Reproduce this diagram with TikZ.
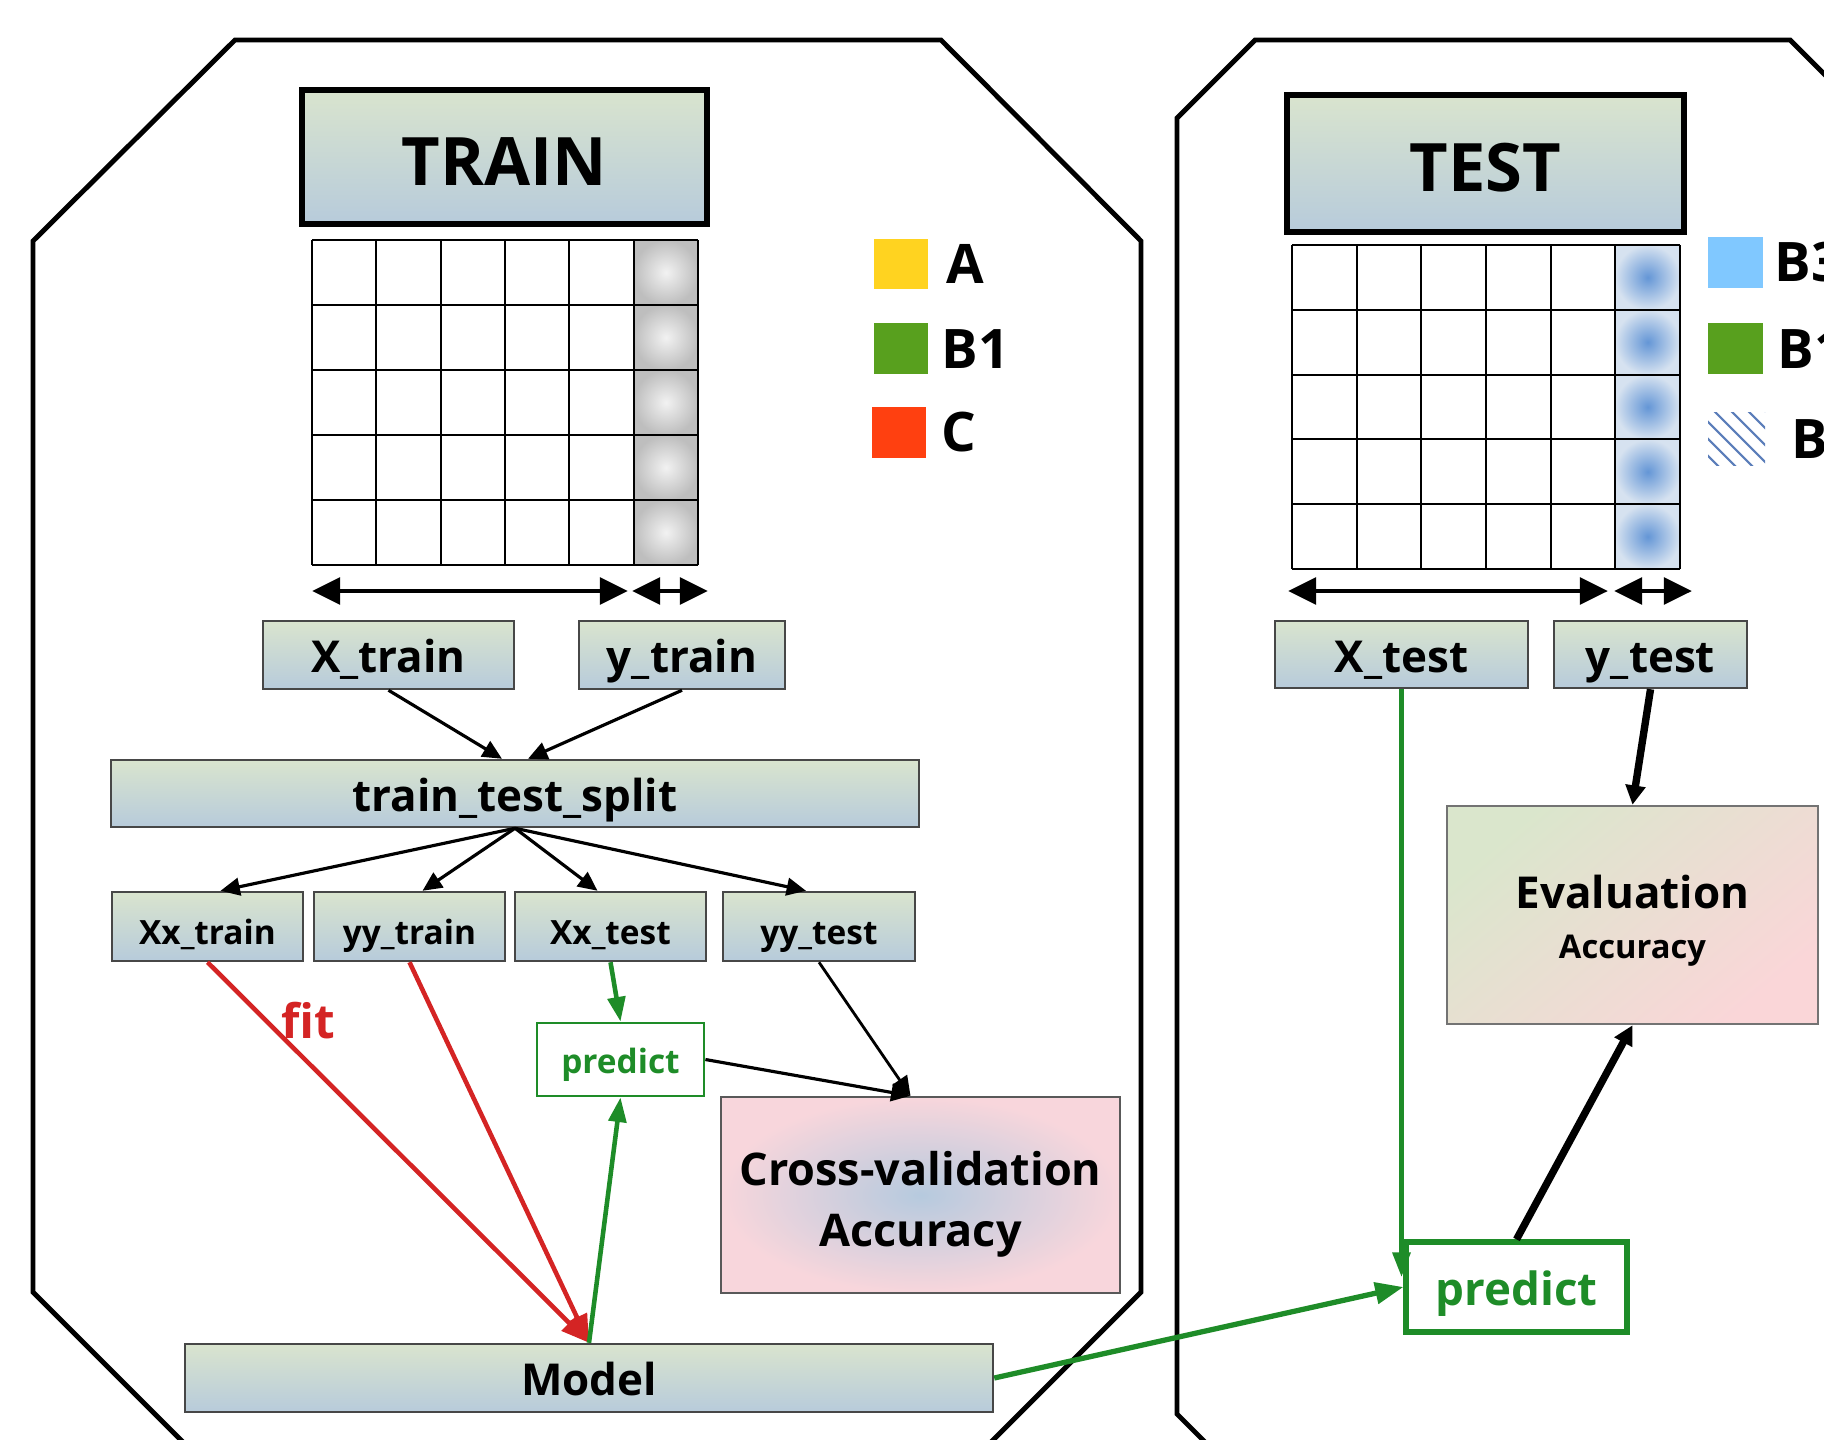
\documentclass[tikz,border=0pt]{standalone}
\usepackage{fontspec}
\setmainfont{Open Sans}
\usetikzlibrary{arrows.meta,calc}
\definecolor{boxtop}{RGB}{217,228,206}
\definecolor{boxbot}{RGB}{183,203,219}
\definecolor{grn}{RGB}{30,140,40}
\definecolor{redl}{RGB}{212,36,36}
\definecolor{legA}{RGB}{255,211,32}
\definecolor{legB}{RGB}{88,160,30}
\definecolor{legC}{RGB}{255,64,16}
\definecolor{legBthree}{RGB}{128,200,255}
\definecolor{hatchc}{RGB}{90,125,185}
\definecolor{cvin}{RGB}{182,202,222}
\definecolor{cvout}{RGB}{248,214,220}
\definecolor{evtl}{RGB}{218,230,204}
\definecolor{evbr}{RGB}{250,214,216}
\definecolor{grayin}{RGB}{242,242,242}
\definecolor{grayout}{RGB}{190,190,190}
\definecolor{bluein}{RGB}{100,150,214}
\definecolor{blueout}{RGB}{214,226,240}
\begin{document}
\begin{tikzpicture}[x=0.01cm,y=-0.01cm,
  bxat/.style n args={4}{minimum width={(#3-#1)*0.01cm},minimum height={(#4-#2)*0.01cm},at={({(#1+#3)/2},{(#2+#4)/2})}},
  oct/.style={draw=black,line width=1.4pt,line join=miter},
  gbox/.style={draw=black!72,line width=0.7pt,top color=boxtop,bottom color=boxbot,inner sep=0pt,text height=10pt,text depth=0pt},
  titlebox/.style={draw=black,line width=1.7pt,top color=boxtop,bottom color=boxbot,inner sep=0pt,text height=16pt,text depth=0pt,font=\fontsize{19}{22}\selectfont\bfseries},
  midtxt/.style={font=\fontsize{12.5}{15}\selectfont\bfseries},
  smalltxt/.style={font=\fontsize{9.5}{12}\selectfont\bfseries},
  legsq/.style={inner sep=0pt,draw=none},
  legtxt/.style={inner sep=0pt,anchor=west,font=\fontsize{15.5}{18}\selectfont\bfseries},
  blk/.style={-{Triangle[length=5.5pt,width=5pt]},line width=0.9pt,black},
  dbl/.style={{Triangle[length=8pt,width=7.5pt]}-{Triangle[length=8pt,width=7.5pt]},line width=1.4pt},
  redarr/.style={-{Triangle[length=8pt,width=6pt]},line width=1.3pt,redl},
  grnarr/.style={-{Triangle[length=7pt,width=5pt]},line width=1.3pt,grn},
  grnbig/.style={-{Triangle[length=8pt,width=6pt]},line width=1.5pt,grn},
  thickarr/.style={-{Triangle[length=5.5pt,width=5.5pt]},line width=2.1pt,black}
]
\useasboundingbox (0,0) rectangle (1824,1439);
\clip (0,0) rectangle (1824,1439);

% octagons
\draw[oct] (283,1542) -- (33,1292) -- (33,241) -- (235,40) -- (941,40) -- (1141,241) -- (1141,1292) -- (891,1542);
\draw[oct] (1427,1664) -- (1177,1414) -- (1177,118) -- (1255,40) -- (1790,40) -- (2040,290);

% title boxes
\node[titlebox,bxat={302}{90}{707}{224}] (train) {TRAIN};
\node[titlebox,bxat={1287}{95}{1684}{232}] (test) {TEST};

% train grid
\foreach \r in {0,...,4}{
  \shade[inner color=grayin,outer color=grayout] (633.7,240+65*\r) rectangle (698,305+65*\r);
}
\foreach \c in {0,...,6}{ \draw[line width=0.6pt] (312+64.33*\c,240) -- (312+64.33*\c,565); }
\foreach \r in {0,...,5}{ \draw[line width=0.6pt] (312,240+65*\r) -- (698,240+65*\r); }

% test grid
\foreach \r in {0,...,4}{
  \shade[inner color=bluein,outer color=blueout] (1615.3,245+64.8*\r) rectangle (1680,309.8+64.8*\r);
}
\foreach \c in {0,...,6}{ \draw[line width=0.6pt] (1292+64.67*\c,245) -- (1292+64.67*\c,569); }
\foreach \r in {0,...,5}{ \draw[line width=0.6pt] (1292,245+64.8*\r) -- (1680,245+64.8*\r); }

% width arrows
\coordinate (la1) at (312,591); \coordinate (la2) at (628,591);
\coordinate (la3) at (632,591); \coordinate (la4) at (708,591);
\coordinate (ra1) at (1288,591); \coordinate (ra2) at (1608,591);
\coordinate (ra3) at (1614,591); \coordinate (ra4) at (1692,591);
\draw[dbl] (la1) -- (la2);
\draw[dbl] (la3) -- (la4);
\draw[dbl] (ra1) -- (ra2);
\draw[dbl] (ra3) -- (ra4);

% legends
\node[legsq,fill=legA,bxat={874}{239}{928}{289}] (sqA) {};
\node[legsq,fill=legB,bxat={874}{323}{928}{374}] (sqB) {};
\node[legsq,fill=legC,bxat={872}{407}{926}{458}] (sqC) {};
\node[legtxt] (tA) at (946,264) {A};
\node[legtxt] (tB) at (941,349) {B1};
\node[legtxt] (tC) at (941,432) {C};
\node[legsq,fill=legBthree,bxat={1708}{237}{1763}{288}] (sqB3) {};
\node[legsq,fill=legB,bxat={1708}{323}{1763}{374}] (sqB1) {};
\begin{scope}
\clip (1708,412) rectangle (1765,465);
\foreach \k in {-3,...,3}{ \draw[hatchc,line width=0.6pt] (1708+17*\k,405) -- (1778+17*\k,475); }
\end{scope}
\node[legtxt] (tB3) at (1774,262) {B3};
\node[legtxt] (tB1) at (1777,349) {B1};
\node[legtxt] (tBB) at (1791,439) {B};

% boxes
\node[gbox,midtxt,bxat={263}{621}{514}{689}] (Xtrain) {X\_train};
\node[gbox,midtxt,bxat={579}{621}{785}{689}] (ytrain) {y\_train};
\node[gbox,midtxt,bxat={1275}{621}{1528}{688}] (Xtest) {X\_test};
\node[gbox,midtxt,bxat={1554}{621}{1747}{688}] (ytest) {y\_test};
\node[gbox,midtxt,bxat={111}{760}{919}{827}] (split) {train\_test\_split};
\node[gbox,smalltxt,bxat={112}{892}{303}{961}] (xxtrain) {Xx\_train};
\node[gbox,smalltxt,bxat={314}{892}{505}{961}] (yytrain) {yy\_train};
\node[gbox,smalltxt,bxat={515}{892}{706}{961}] (xxtest) {Xx\_test};
\node[gbox,smalltxt,bxat={723}{892}{915}{961}] (yytest) {yy\_test};
\node[draw=grn,line width=0.8pt,fill=white,inner sep=0pt,text=grn,smalltxt,text height=8pt,text depth=0pt,bxat={537}{1023}{704}{1096}] (predL) {predict};
\node[draw=black!65,line width=0.7pt,inner color=cvin,outer color=cvout,inner sep=0pt,align=center,
      font=\fontsize{12.8}{17.5}\selectfont\bfseries,bxat={721}{1097}{1120}{1293}] (CV) {\rule{0pt}{15pt}Cross-validation\\Accuracy};
\node[gbox,midtxt,bxat={185}{1344}{993}{1412}] (Model) {Model};
\node[draw=grn,line width=1.5pt,fill=white,inner sep=0pt,text=grn,font=\fontsize{13}{15}\selectfont\bfseries,text height=10.6pt,text depth=0pt,bxat={1406}{1242}{1627}{1332}] (predR) {predict};
\node[draw=black!55,line width=0.7pt,top color=evtl,bottom color=evbr,shading angle=40,inner sep=0pt,align=center,
      bxat={1447}{806}{1818}{1024}] (Eval) {{\fontsize{12.5}{17}\selectfont\bfseries\rule{0pt}{12.8pt}Evaluation}\\[2.3pt]{\fontsize{9.3}{11}\selectfont\bfseries Accuracy}};

% fit label
\node[text=redl,font=\fontsize{13.5}{16}\selectfont\bfseries,inner sep=0pt] (fitlbl) at (308,1021) {fit};

% connectors
\draw[blk] (Xtrain.south) -- ($(split.north)+(-13,0)$);
\draw[blk] (ytrain.south) -- ($(split.north)+(13,0)$);
\draw[blk] (split.south) -- ($(xxtrain.north)+(13,0)$);
\draw[blk] (split.south) -- ($(yytrain.north)+(13,0)$);
\draw[blk] (split.south) -- ($(xxtest.north)+(-13,0)$);
\draw[blk] (split.south) -- ($(yytest.north)+(-13,0)$);
\draw[redarr] (xxtrain.south) -- (Model.north);
\draw[redarr] (yytrain.south) -- (Model.north);
\draw[grnarr] (xxtest.south) -- (predL.north);
\draw[grnarr] (Model.north) -- (predL.south);
\coordinate (cvin) at ($(CV.north)+(-10,0)$);
\draw[blk] (predL.east) -- (cvin);
\draw[-{Triangle[length=5.5pt,width=5pt]},line width=0.8pt] (yytest.south) -- (cvin);
\draw[grnbig] (Model.east) -- (predR.west);
\coordinate (prin) at (Xtest.south |- 0,1277);
\draw[grnarr] (Xtest.south) -- (prin);
\draw[thickarr] (ytest.south) -- (Eval.north);
\draw[thickarr] (predR.north) -- (Eval.south);
\end{tikzpicture}
\end{document}
